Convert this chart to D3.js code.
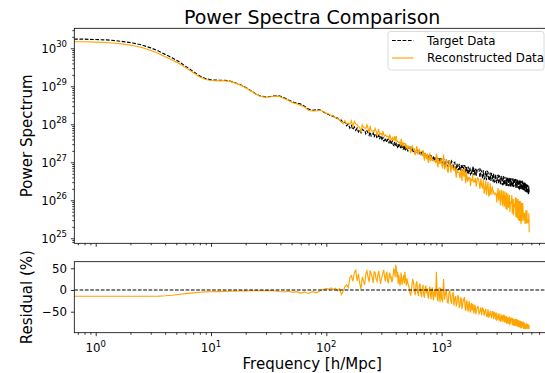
<!DOCTYPE html>
<html><head><meta charset="utf-8">
<script src="https://cdn.jsdelivr.net/npm/d3@7"></script>
<style>
body{margin:0;background:#fff}
text{font-family:"DejaVu Sans",sans-serif;fill:#000}
</style>
</head><body>
<svg id="c" width="545" height="373"></svg>
<script>
// ---------------- data ----------------
// frequencies [h/Mpc]; the last block holds extra samples between the earlier ones (rows are sorted by frequency)
const frequency = [
  0.65,0.8,1.0,1.25,1.5,1.8,2.1,2.5,3.0,3.5,4.0,4.6,5.2,6.0,7.0,8.0,9.0,10,11.5,13,14.5,16,18,20,22,24.5,27,30,33,36,39,43,47,51,55,60,65,70,76,82,88,94,100,
  105,110,115,120,125,130,135,140,145,150,155,160,165,170,175,180,185,190,195,200,
  210,220,230,240,250,260,270,280,290,300,310,320,330,340,350,360,370,380,390,400,410,420,430,440,450,460,470,480,490,500,
  520,540,560,580,600,620,640,660,680,700,720,740,760,780,800,820,840,860,880,900,920,940,960,980,1000,
  1040,1080,1120,1160,1200,1240,1280,1320,1360,1400,1440,1480,1520,1560,1600,1640,1680,1720,1760,1800,1840,1880,1920,1960,2000,
  2075,2150,2225,2300,2375,2450,2525,2600,2675,2750,2825,2900,2975,3050,3125,3200,3275,3350,3425,3500,3575,3650,3725,3800,3875,3950,4025,4100,4175,4250,4325,4400,4475,4550,4625,4700,4775,4850,4925,5000,5075,5150,5225,5300,5375,5450,5525,5600,5675,5750,
  205,215,225,235,245,255,265,275,285,295,305,315,325,335,345,355,365,375,385,395,405,415,425,435,445,455,465,475,485,495,
  510,530,550,570,590,610,630,650,670,690,710,730,750,770,790,810,830,850,870,890,910,930,950,970,990,1020,
  1060,1100,1140,1180,1220,1260,1300,1340,1380,1420,1460,1500,1540,1580,1620,1660,1700,1740,1780,1820,1860,1900,1940,1980,2037,
  2112,2188,2262,2338,2412,2488,2562,2638,2712,2788,2862,2938,3012,3088,3162,3238,3312,3388,3462,3538,3612,3688,3762,3838,3912,3988,4062,4138,4212,4288,4362,4438,4512,4588,4662,4738,4812,4888,4962,5038,5112,5188,5262,5338,5412,5488,5562,5638,5712
];
// target power spectrum, log10 values
const targetLog10 = [
  30.24,30.24,30.23,30.22,30.20,30.17,30.14,30.09,30.01,29.93,29.84,29.75,29.66,29.53,29.39,29.27,29.20,29.17,29.16,29.16,29.14,29.10,29.04,28.97,28.89,28.80,28.74,28.72,28.73,28.75,28.75,28.70,28.64,28.59,28.56,28.53,28.47,28.40,28.37,28.38,28.38,28.33,28.28,
  28.26,28.21,28.22,28.16,28.17,28.10,28.11,28.03,28.06,27.96,28.01,27.90,27.97,27.86,27.93,27.84,27.90,27.80,27.86,27.78,
  27.84,27.75,27.78,27.80,27.71,27.66,27.73,27.67,27.61,27.66,27.67,27.57,27.57,27.60,27.50,27.55,27.54,27.46,27.53,27.45,27.43,27.48,27.44,27.37,27.43,27.44,27.37,27.34,27.42,27.35,
  27.39,27.30,27.33,27.35,27.26,27.23,27.31,27.24,27.18,27.23,27.23,27.12,27.13,27.18,27.07,27.13,27.14,27.05,27.13,27.05,27.02,27.11,27.06,27.00,27.07,
  27.11,26.93,26.93,27.04,26.85,26.99,26.98,26.82,26.97,26.81,26.79,26.93,26.89,26.74,26.88,26.89,26.74,26.71,26.87,26.72,26.82,26.66,26.82,26.80,26.65,
  26.79,26.60,26.75,26.79,26.59,26.53,26.74,26.55,26.51,26.67,26.71,26.50,26.49,26.65,26.43,26.61,26.61,26.42,26.64,26.44,26.42,26.60,26.56,26.37,26.55,26.58,26.40,26.37,26.58,26.39,26.52,26.33,26.52,26.51,26.33,26.54,26.33,26.33,26.49,26.27,26.45,26.47,26.29,26.23,26.41,26.39,26.20,26.40,26.19,26.16,
  27.87,27.85,27.83,27.71,27.69,27.77,27.75,27.63,27.71,27.70,27.58,27.56,27.64,27.52,27.61,27.59,27.47,27.56,27.44,27.43,27.52,27.40,27.39,27.48,27.47,27.36,27.35,27.44,27.33,27.32,
  27.30,27.40,27.39,27.25,27.24,27.35,27.33,27.19,27.29,27.27,27.13,27.11,27.21,27.08,27.19,27.18,27.05,27.16,27.03,27.02,27.13,27.00,27.00,27.11,27.11,26.97,
  26.92,27.08,26.88,27.04,27.03,26.83,27.00,26.80,26.79,26.96,26.77,26.76,26.93,26.92,26.73,26.72,26.89,26.70,26.69,26.68,26.85,26.84,26.66,26.83,26.81,
  26.82,26.80,26.57,26.56,26.77,26.76,26.52,26.73,26.72,26.49,26.48,26.68,26.45,26.66,26.65,26.42,26.64,26.41,26.40,26.62,26.39,26.38,26.60,26.59,26.37,26.36,26.58,26.35,26.35,26.56,26.56,26.55,26.33,26.54,26.32,26.31,26.52,26.29,26.50,26.50,26.27,26.26,26.47,26.45,26.22,26.42,26.18,26.16,26.36
];
// residual of reconstruction vs target, percent
const residualPct = [
  -14.5,-14.5,-14.5,-14.5,-14.5,-14.5,-14.5,-14.5,-14.4,-14.0,-13.2,-12.0,-10.5,-8.5,-6.5,-5.2,-4.5,-4.0,-3.6,-3.2,-2.8,-2.5,-2.2,-2.0,-1.8,-1.6,-1.8,-1.4,-1.2,-2.2,-3.5,-4.5,-3.0,-5.5,-3.8,-7.0,-4.5,-8.0,-4.0,-6.5,-2.5,1.0,3.0,
  2,5,1,4,-2,3,-11,-3,8,12,5,28,33,20,40,46,21,37,15,2,
  21,37,30,45,29,42,25,35,30,25,41,30,36,22,33,28,18,35,45,58,29,14,24,17,30,21,35,42,18,27,
  8,-13,25,-2,14,-6,10,-9,4,-12,6,-8,-15,2,-10,0,-14,-4,-16,42,-21,-2,-18,5,-22,
  25,-8,-28,-5,-24,-8,-36,-14,-30,-16,-38,-20,-35,-24,-42,-28,-44,-30,-45,-33,-48,-36,-50,-38,-49,
  -38,-50,-58,-44,-49,-60,-44,-60,-57,-50,-67,-55,-52,-67,-64,-54,-72,-62,-59,-75,-66,-60,-76,-73,-61,-77,-67,-81,-71,-67,-78,-83,-68,-73,-86,-72,-80,-86,-72,-85,-77,-90,-76,-86,-79,-90,-81,-90,-83,-90,
  30,12,44,18,38,16,40,20,44,14,32,46,20,42,15,40,30,22,48,30,50,42,35,10,40,12,28,15,30,10,
  15,-5,5,18,-12,20,-14,15,-16,12,-18,10,4,-20,8,-22,6,-24,2,-8,12,-26,6,-28,2,-26,
  -22,0,-30,-2,-32,-6,-20,-38,-12,-40,-18,-44,-22,-16,-48,-24,-50,-26,-52,-30,-32,-54,-34,-56,-40,
  -55,-40,-42,-59,-44,-61,-62,-48,-65,-50,-51,-68,-69,-54,-71,-72,-57,-73,-58,-59,-76,-77,-62,-78,-79,-64,-64,-65,-82,-82,-67,-68,-84,-69,-70,-86,-71,-88,-88,-73,-76,-76,-89,-90,-78,-79,-79,-80,-80
];
const xMajorTicks = [1, 10, 100, 1000];
const xMajorExps  = ["0", "1", "2", "3"];
const yMajorExps  = [25, 26, 27, 28, 29, 30];
const resTicks    = [50, 0, -50];
const resTickLabels = ["50", "0", "\u221250"];
const legendLabels = ["Target Data", "Reconstructed Data"];
const titleText = "Power Spectra Comparison";
const yLabelTop = "Power Spectrum";
const yLabelBottom = "Residual (%)";
const xLabelText = "Frequency [h/Mpc]";

// ---------------- layout ----------------
const L = 74.3, R = 550, T1 = 28.3, B1 = 243.3, T2 = 261.7, B2 = 332.7;
const svg = d3.select("#c");
const ORANGE = "#ffa500";
const FS = 11.8, FSUP = 8.5;

const n = Math.min(frequency.length, targetLog10.length, residualPct.length);
const rows = d3.sort(d3.range(n).map(i => {
  const t = Math.pow(10, targetLog10[i]);
  return { f: frequency[i], t: t, r: residualPct[i], rec: t * (1 + residualPct[i] / 100) };
}), d => d.f);

const x = d3.scaleLog().domain([0.652, 8710]).range([L, R]);
const y1 = d3.scaleLog().domain([Math.pow(10, 24.868), Math.pow(10, 30.526)]).range([B1, T1]);
const y2 = d3.scaleLinear().domain([-98.4, 65.2]).range([B2, T2]);

const defs = svg.append("defs");
defs.append("clipPath").attr("id", "cp1").append("rect").attr("x", L).attr("y", T1).attr("width", R - L).attr("height", B1 - T1);
defs.append("clipPath").attr("id", "cp2").append("rect").attr("x", L).attr("y", T2).attr("width", R - L).attr("height", B2 - T2);

// ---------------- top panel lines ----------------
const g1 = svg.append("g").attr("clip-path", "url(#cp1)");
g1.append("path").datum(rows)
  .attr("d", d3.line().x(d => x(d.f)).y(d => y1(d.t)))
  .attr("fill", "none").attr("stroke", "#000").attr("stroke-width", 1.15)
  .attr("stroke-dasharray", "3.7,1.6");
g1.append("path").datum(rows)
  .attr("d", d3.line().x(d => x(d.f)).y(d => y1(d.rec)))
  .attr("fill", "none").attr("stroke", ORANGE).attr("stroke-width", 1.15);

// ---------------- bottom panel lines ----------------
const g2 = svg.append("g").attr("clip-path", "url(#cp2)");
g2.append("path").datum(rows)
  .attr("d", d3.line().x(d => x(d.f)).y(d => y2(d.r)))
  .attr("fill", "none").attr("stroke", ORANGE).attr("stroke-width", 1.15);
g2.append("line").attr("x1", L).attr("x2", R).attr("y1", y2(0)).attr("y2", y2(0))
  .attr("stroke", "#000").attr("stroke-width", 1.1).attr("stroke-dasharray", "3.7,1.6");

// ---------------- axes ----------------
function styleAxis(g) {
  g.select(".domain").remove();
  g.selectAll(".tick line").attr("stroke", "#000").attr("stroke-width", 0.8);
  g.selectAll(".tick text").remove();
}
const isPow10 = v => Math.abs(Math.log10(v) - Math.round(Math.log10(v))) < 1e-9;
const xMinor = x.ticks().filter(v => !isPow10(v));
const y1Minor = y1.ticks().filter(v => !isPow10(v));

[B1, B2].forEach(yy => {
  svg.append("g").attr("transform", `translate(0,${yy})`)
    .call(d3.axisBottom(x).tickValues(xMajorTicks).tickSize(3.5).tickFormat("")).call(styleAxis);
  svg.append("g").attr("transform", `translate(0,${yy})`)
    .call(d3.axisBottom(x).tickValues(xMinor).tickSize(2).tickFormat("")).call(styleAxis);
});
svg.append("g").attr("transform", `translate(${L},0)`)
  .call(d3.axisLeft(y1).tickValues(yMajorExps.map(e => Math.pow(10, e))).tickSize(3.5).tickFormat("")).call(styleAxis);
svg.append("g").attr("transform", `translate(${L},0)`)
  .call(d3.axisLeft(y1).tickValues(y1Minor).tickSize(2).tickFormat("")).call(styleAxis);
svg.append("g").attr("transform", `translate(${L},0)`)
  .call(d3.axisLeft(y2).tickValues(resTicks).tickSize(3.5).tickFormat("")).call(styleAxis);

// spines
[[T1, B1], [T2, B2]].forEach(([t, b]) => {
  svg.append("rect").attr("x", L).attr("y", t).attr("width", R - L).attr("height", b - t)
    .attr("fill", "none").attr("stroke", "#000").attr("stroke-width", 0.8);
});

// x tick labels (bottom panel)
xMajorTicks.forEach((v, i) => {
  const t = svg.append("text").attr("x", x(v)).attr("y", 351.7).attr("text-anchor", "middle")
    .style("font-size", FS + "px");
  t.append("tspan").text("10");
  t.append("tspan").attr("dy", -5.2).style("font-size", FSUP + "px").text(xMajorExps[i]);
});
// y tick labels top
yMajorExps.forEach(e => {
  const t = svg.append("text").attr("x", 67).attr("y", y1(Math.pow(10, e)) + 4.3).attr("text-anchor", "end")
    .style("font-size", FS + "px");
  t.append("tspan").text("10");
  t.append("tspan").attr("dy", -5.2).style("font-size", FSUP + "px").text(String(e));
});
// y tick labels bottom
resTicks.forEach((v, i) => {
  svg.append("text").attr("x", 67).attr("y", y2(v) + 4.3).attr("text-anchor", "end")
    .style("font-size", FS + "px").text(resTickLabels[i]);
});

// titles / labels
svg.append("text").attr("x", (L + R) / 2).attr("y", 24).attr("text-anchor", "middle")
  .style("font-size", "19px").text(titleText);
svg.append("text").attr("transform", `translate(31.5,${(T1 + B1) / 2}) rotate(-90)`)
  .attr("text-anchor", "middle").style("font-size", "15px").text(yLabelTop);
svg.append("text").attr("transform", `translate(31.5,${(T2 + B2) / 2}) rotate(-90)`)
  .attr("text-anchor", "middle").style("font-size", "15px").text(yLabelBottom);
svg.append("text").attr("x", (L + R) / 2).attr("y", 369).attr("text-anchor", "middle")
  .style("font-size", "15px").text(xLabelText);

// legend
const lg = svg.append("g");
lg.append("rect").attr("x", 388).attr("y", 31.5).attr("width", 156).attr("height", 38.5)
  .attr("rx", 2.5).attr("fill", "#fff").attr("fill-opacity", 0.8)
  .attr("stroke", "#d0d0d0").attr("stroke-width", 0.8);
const legendRows = [
  { y: 40.5, stroke: "#000", dash: "3.7,1.6" },
  { y: 58, stroke: ORANGE, dash: null }
];
legendRows.forEach((r, i) => {
  lg.append("line").attr("x1", 392).attr("x2", 413.5).attr("y1", r.y).attr("y2", r.y)
    .attr("stroke", r.stroke).attr("stroke-width", 1.15).attr("stroke-dasharray", r.dash);
  lg.append("text").attr("x", 427).attr("y", r.y + 4.1).style("font-size", FS + "px").text(legendLabels[i]);
});
</script>
</body></html>
